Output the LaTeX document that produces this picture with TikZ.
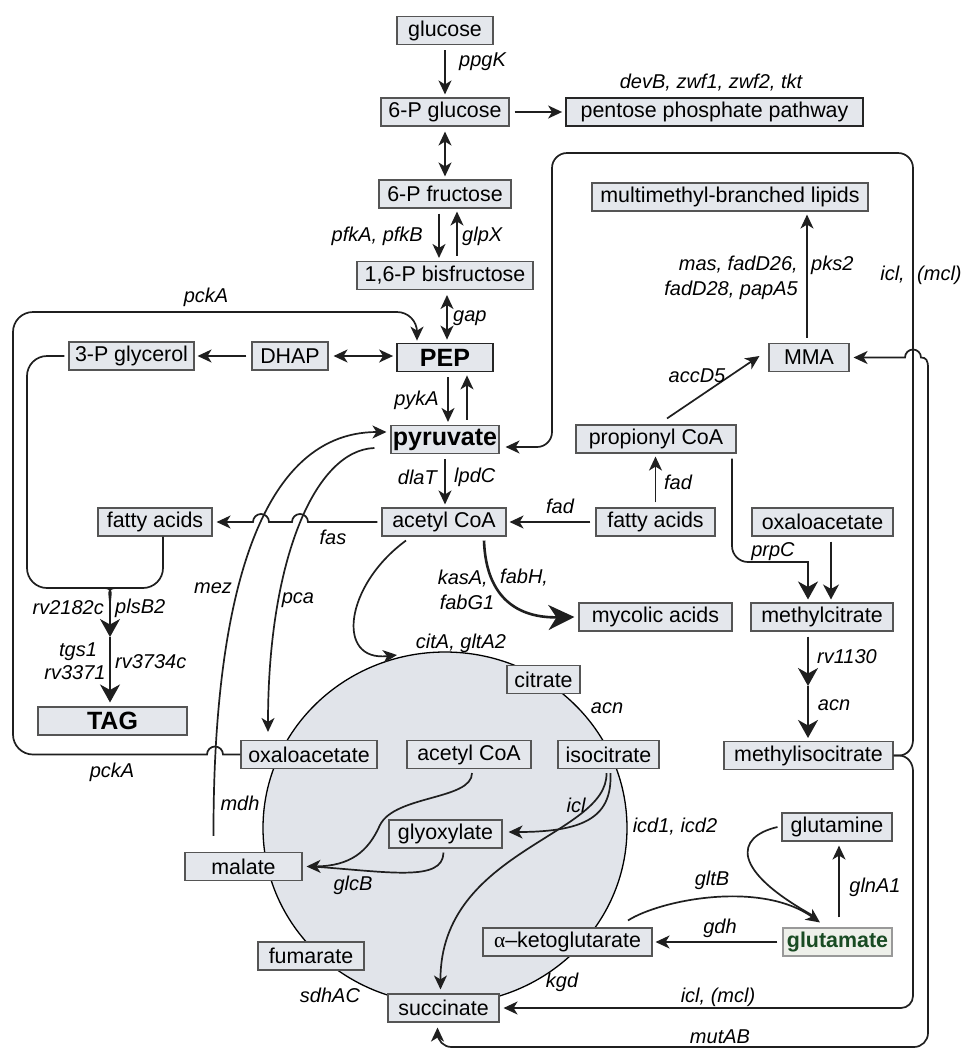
\documentclass[tikz,border=0pt]{standalone}
\usepackage{fontspec}
\setmainfont{Liberation Sans}
\newfontfamily\greekfont{Liberation Serif}
\usetikzlibrary{arrows.meta}
\definecolor{boxfill}{RGB}{228,231,236}
\definecolor{cyclefill}{RGB}{225,228,234}
\definecolor{boxline}{RGB}{85,85,85}
\definecolor{glugreen}{RGB}{25,75,35}
\definecolor{glufill}{RGB}{238,240,234}
\tikzset{
  box/.style={draw=boxline, fill=boxfill, line width=1.1pt, minimum height=28pt, inner sep=0pt, font=\fontsize{21.4}{25}\selectfont},
  boldbox/.style={font=\fontsize{25}{28}\selectfont\bfseries},
  gene/.style={inner sep=0pt, font=\fontsize{20}{23}\selectfont\itshape},
  conn/.style={line width=1.7pt, draw=black!88},
  arr/.style={conn, -{Stealth[length=14pt,width=13pt,inset=4pt]}},
  darr/.style={conn, {Stealth[length=14pt,width=13pt,inset=4pt]}-{Stealth[length=14pt,width=13pt,inset=4pt]}},
  medarr/.style={conn, -{Stealth[length=15pt,width=16pt,inset=4.5pt]}},
  bigarr/.style={conn, -{Stealth[length=18pt,width=20pt,inset=5.5pt]}},
  hugearr/.style={conn, line width=2.6pt, -{Stealth[length=26pt,width=25pt,inset=8pt]}},
  spaced/.style={shorten >=3pt, shorten <=5pt}
}
\newcommand{\metab}[5][]{\node[box,#1,minimum width=#4pt] (#2) at (#3) {#5};}
\newcommand{\gene}[4][center]{\node[gene,anchor=#1] (#2) at (#3) {#4};}

\begin{document}
\begin{tikzpicture}[x=1pt,y=1pt]
        \path[fill=white, use as bounding box] (0,0) rectangle (961,-1050);
        % cycle
        \draw[fill=cyclefill, line width=1.3pt] (445,-828) ellipse [x radius=182pt, y radius=176pt];
        % glycolysis
        \metab{glc}{445,-30.5}{96}{glucose}
        \metab{gsixp}{445,-112}{128}{6-P glucose}
        \metab[line width=1.8pt, draw=black!85]{ppp}{714.5,-112}{297}{pentose phosphate pathway}
        \metab{fsixp}{445,-194}{132}{6-P fructose}
        \metab{fbp}{445,-275.5}{176}{1,6-P bisfructose}
        \metab[boldbox, line width=1.8pt, draw=black!85]{pep}{445,-357.5}{96}{PEP}
        \metab{dhap}{290,-356}{76}{DHAP}
        \metab{gly}{131.5,-356}{125}{3-P glycerol}
        \metab[boldbox]{pyr}{445,-439.5}{108}{pyruvate}
        \metab{accoa}{444,-522}{124}{acetyl CoA}
        \metab{fal}{155,-522}{114}{fatty acids}
        \metab[boldbox]{tag}{112.5,-721}{149}{TAG}
        % lipids
        \metab{far}{655.5,-522}{119}{fatty acids}
        \metab{prop}{656,-439}{160}{propionyl CoA}
        \metab{mma}{809,-357.5}{80}{MMA}
        \metab{mmbl}{730,-197}{276}{multimethyl-branched lipids}
        \metab{myc}{655.5,-617}{153}{mycolic acids}
        \metab{oaar}{822.5,-522}{141}{oxaloacetate}
        \metab{mcit}{822,-617}{142}{methylcitrate}
        \metab{micit}{808.5,-755.5}{169}{methylisocitrate}
        % TCA
        \metab{oaa}{309,-754.5}{136}{oxaloacetate}
        \metab{accoab}{469,-754.5}{124}{acetyl CoA}
        \metab{cit}{543.5,-679.5}{73}{citrate}
        \metab{icit}{608.5,-754.5}{101}{isocitrate}
        \metab{glx}{445.5,-834}{113}{glyoxylate}
        \metab{mal}{243.5,-866.5}{117}{malate}
        \metab{fum}{311,-956}{106}{fumarate}
        \metab{suc}{443.5,-1008}{111}{succinate}
        \metab{akg}{567.5,-942}{169}{{\greekfont α}–ketoglutarate}
        \metab[font=\fontsize{21.4}{25}\selectfont\bfseries, text=glugreen, fill=glufill, draw=boxline!60]{glu}{837.5,-942}{109}{glutamate}
        \metab{gln}{837,-827}{110}{glutamine}

        % glycolysis arrows
        \draw[arr, spaced] (glc) -- (gsixp);
        \draw[arr, spaced] (gsixp) -- (ppp);
        \draw[darr, spaced] (gsixp) -- (fsixp);
        \draw[arr, spaced] ([xshift=-6pt]fsixp.south) -- ([xshift=-6pt]fbp.north);
        \draw[arr, spaced] ([xshift=12pt]fbp.north) -- ([xshift=12pt]fsixp.south);
        \draw[darr, spaced] ([xshift=2pt]fbp.south) -- ([xshift=2pt]pep.north);
        \draw[arr, spaced] ([xshift=3pt]pep.south) -- ([xshift=3pt]pyr.north);
        \draw[arr, spaced] ([xshift=22pt]pyr.north) -- ([xshift=22pt]pep.south);
        \draw[darr, spaced] (dhap.east) -- (dhap.east -| pep.west);
        \draw[arr, spaced] (dhap) -- (gly);
        \draw[arr, spaced] (pyr.south) -- (pyr.south |- accoa.north);
        % pckA
        \draw[arr] (oaa.west) -- (223,-754.5) arc[start angle=0,end angle=180,radius=8pt] -- (200,-754.5)
            [rounded corners=20pt] -- (13,-754.5) -- (13,-312) -- (417,-312) -- ([xshift=-28pt,yshift=2pt]pep.north);
        % TAG
        \coordinate (tagin) at (110,-604);
        \coordinate (tagmid) at (110,-637);
        \draw[conn] ([xshift=-4pt]gly.west) [rounded corners=20pt] -- (27,-356) -- (27,-588) -- (96,-588)
            [sharp corners] .. controls (106,-588) and (110,-594) .. (tagin);
        \draw[conn] ([xshift=8pt]fal.south) [rounded corners=20pt] -- (163,-588) -- (124,-588)
            [sharp corners] .. controls (114,-588) and (110,-594) .. (tagin);
        \draw[bigarr] (tagin) -- (tagmid);
        \draw[bigarr] (tagmid) -- ([yshift=4pt]tag.north -| tagin);
        % mez, pca, fas
        \draw[arr] ([xshift=-30pt,yshift=16pt]mal.north) .. controls (213,-620) and (252,-432) .. ([xshift=-4pt,yshift=7.5pt]pyr.west);
        \draw[arr] ([xshift=-16pt,yshift=-8.5pt]pyr.west) .. controls (315,-450) and (268,-560) .. ([xshift=-41pt,yshift=8pt]oaa.north);
        \draw[arr] ([xshift=-4pt]accoa.west) -- (308,-522) arc[start angle=0,end angle=180,radius=8pt]
            -- (269,-522) arc[start angle=0,end angle=180,radius=8pt] -- ([xshift=4pt]fal.east);
        % acetyl CoA
        \coordinate (citin) at (397,-655);
        \draw[arr] ([xshift=-38pt,yshift=-4pt]accoa.south) .. controls (345,-585) and (335,-662) .. (citin);
        \draw[hugearr] ([xshift=40pt,yshift=-4pt]accoa.south) .. controls (486,-600) and (520,-618) .. ([xshift=-4pt]myc.west);
        % lipids arrows
        \draw[arr] ([xshift=11pt,yshift=6pt]prop.north) -- ([xshift=-9pt,yshift=1.5pt]mma.west);
        \draw[arr, spaced] ([xshift=-2pt]mma.north) -- ([xshift=-2pt]mma.north |- mmbl.south);
        \draw[arr, spaced] (far.north) -- (far.north |- prop.south);
        \draw[arr, spaced] (far.west) -- (accoa.east);
        \draw[medarr, spaced] ([xshift=8.5pt]oaar.south) -- ([xshift=8.5pt]oaar.south |- mcit.north);
        \draw[bigarr] ([xshift=76pt,yshift=-5pt]prop.south) [rounded corners=16pt] -- (732,-562) -- (792,-562)
            [sharp corners] to[out=0,in=90] ([xshift=-14pt,yshift=3pt]mcit.north);
        \coordinate (micmid) at (808,-686);
        \draw[bigarr] ([xshift=-14pt,yshift=-5pt]mcit.south) -- (micmid);
        \draw[bigarr] (micmid) -- ([xshift=-0.5pt,yshift=3pt]micit.north);
        % methylisocitrate
        \coordinate (brace) at (899,-755.5);
        \draw[arr] (micit.east) -- (brace) to[out=0,in=-90] (913,-740)
            [rounded corners=15pt] -- (913,-153) -- (552,-153) -- (552,-447) -- ([xshift=6pt,yshift=-7.5pt]pyr.east);
        \draw[arr] (micit.east) -- (brace) to[out=0,in=90] (913,-771)
            [rounded corners=12pt] -- (913,-1008) -- ([xshift=4pt]suc.east);
        \draw[darr] ([xshift=4pt]mma.east) -- (905,-357.5) arc[start angle=180,end angle=0,radius=8pt]
            .. controls (926,-357.5) and (928,-360) .. (928,-368)
            [rounded corners=14pt] -- (928,-1047) -- (437.5,-1047) -- ([xshift=-6pt,yshift=-5pt]suc.south);
        % cycle arrows
        \draw[arr] ([xshift=2pt,yshift=-4pt]icit.south) .. controls (612,-815) and (588,-832) .. ([xshift=6pt,yshift=2pt]glx.east);
        \draw[arr] ([xshift=-2pt,yshift=-4pt]icit.south) .. controls (608,-836) and (440,-850) .. ([xshift=-3pt,yshift=4pt]suc.north);
        \draw[arr] ([xshift=3pt,yshift=-4pt]accoab.south) .. controls (472,-800) and (395,-795) .. (380,-825)
            .. controls (368,-852) and (350,-866) .. ([xshift=4pt]mal.east);
        \draw[conn] ([xshift=-2pt,yshift=-4pt]glx.south) .. controls (443,-882) and (390,-872) .. ([xshift=10pt]mal.east);
        % glutamate
        \draw[arr, spaced] (glu.west) -- (akg.east);
        \draw[arr] ([xshift=60.5pt,yshift=7pt]akg.north) .. controls (660,-900) and (760,-880) .. ([xshift=-17.5pt,yshift=5pt]glu.north);
        \draw[conn] ([xshift=-4pt]gln.west) .. controls (735,-837) and (730,-870) .. ([xshift=-23pt,yshift=11pt]glu.north);
        \draw[arr, shorten >=4pt, shorten <=10pt] ([xshift=1.5pt]glu.north) -- ([xshift=1.5pt]glu.north |- gln.south);

        % genes
        \gene{ldevb}{711,-83}{devB, zwf1, zwf2, tkt}
        \gene[west]{lppgk}{459,-62}{ppgK}
        \gene[east]{lpfk}{423,-236}{pfkA, pfkB}
        \gene[west]{lglpx}{462,-236}{glpX}
        \gene[west]{lgap}{453,-318}{gap}
        \gene{lpcka}{206,-297}{pckA}
        \gene[east]{lpyka}{439,-400}{pykA}
        \gene[east]{ldlat}{437,-477}{dlaT}
        \gene[west]{llpdc}{454,-477}{lpdC}
        \gene{lfas}{333,-537}{fas}
        \gene{lmez}{213,-588}{mez}
        \gene{lpca}{298,-600}{pca}
        \gene[east]{lrvtwo}{104,-608}{rv2182c}
        \gene[west]{lplsb}{115,-608}{plsB2}
        \gene{ltgs}{78,-652}{tgs1}
        \gene{lrvthree}{75,-673}{rv3371}
        \gene[west]{lrvfour}{115,-662}{rv3734c}
        \gene{lpckb}{112,-772}{pckA}
        \gene{lmdh}{240,-803}{mdh}
        \gene{lglcb}{353,-885}{glcB}
        \gene{lsdh}{330,-995}{sdhAC}
        \gene{lkgd}{562,-982}{kgd}
        \gene{licl}{576,-805}{icl}
        \gene{licd}{675,-827}{icd1, icd2}
        \gene{lacn}{607,-708}{acn}
        \gene{lcita}{461,-643}{citA, gltA2}
        \gene[east]{lkasa}{488,-579}{kasA,}
        \gene[west]{lfabh}{500,-578}{fabH,}
        \gene{lfabg}{467,-602}{fabG1}
        \gene{lfada}{560,-506}{fad}
        \gene{lfadb}{678,-482}{fad}
        \gene{laccd}{697,-376}{accD5}
        \gene[east]{lmas}{798,-265}{mas, fadD26,}
        \gene[east]{lfadd}{798,-290}{fadD28, papA5}
        \gene[west]{lpks}{811,-265}{pks2}
        \gene[east]{liclt}{905,-275}{icl,}
        \gene[west]{lmcl}{917,-275}{(mcl)}
        \gene{lprpc}{773,-552}{prpC}
        \gene{lrv}{847,-657}{rv1130}
        \gene{lacnb}{834,-705}{acn}
        \gene{lgltb}{712,-880}{gltB}
        \gene{lgdh}{720,-928}{gdh}
        \gene{lglna}{875,-887}{glnA1}
        \gene{liclb}{718,-997}{icl, (mcl)}
        \gene{lmut}{720,-1037}{mutAB}
\end{tikzpicture}
\end{document}
